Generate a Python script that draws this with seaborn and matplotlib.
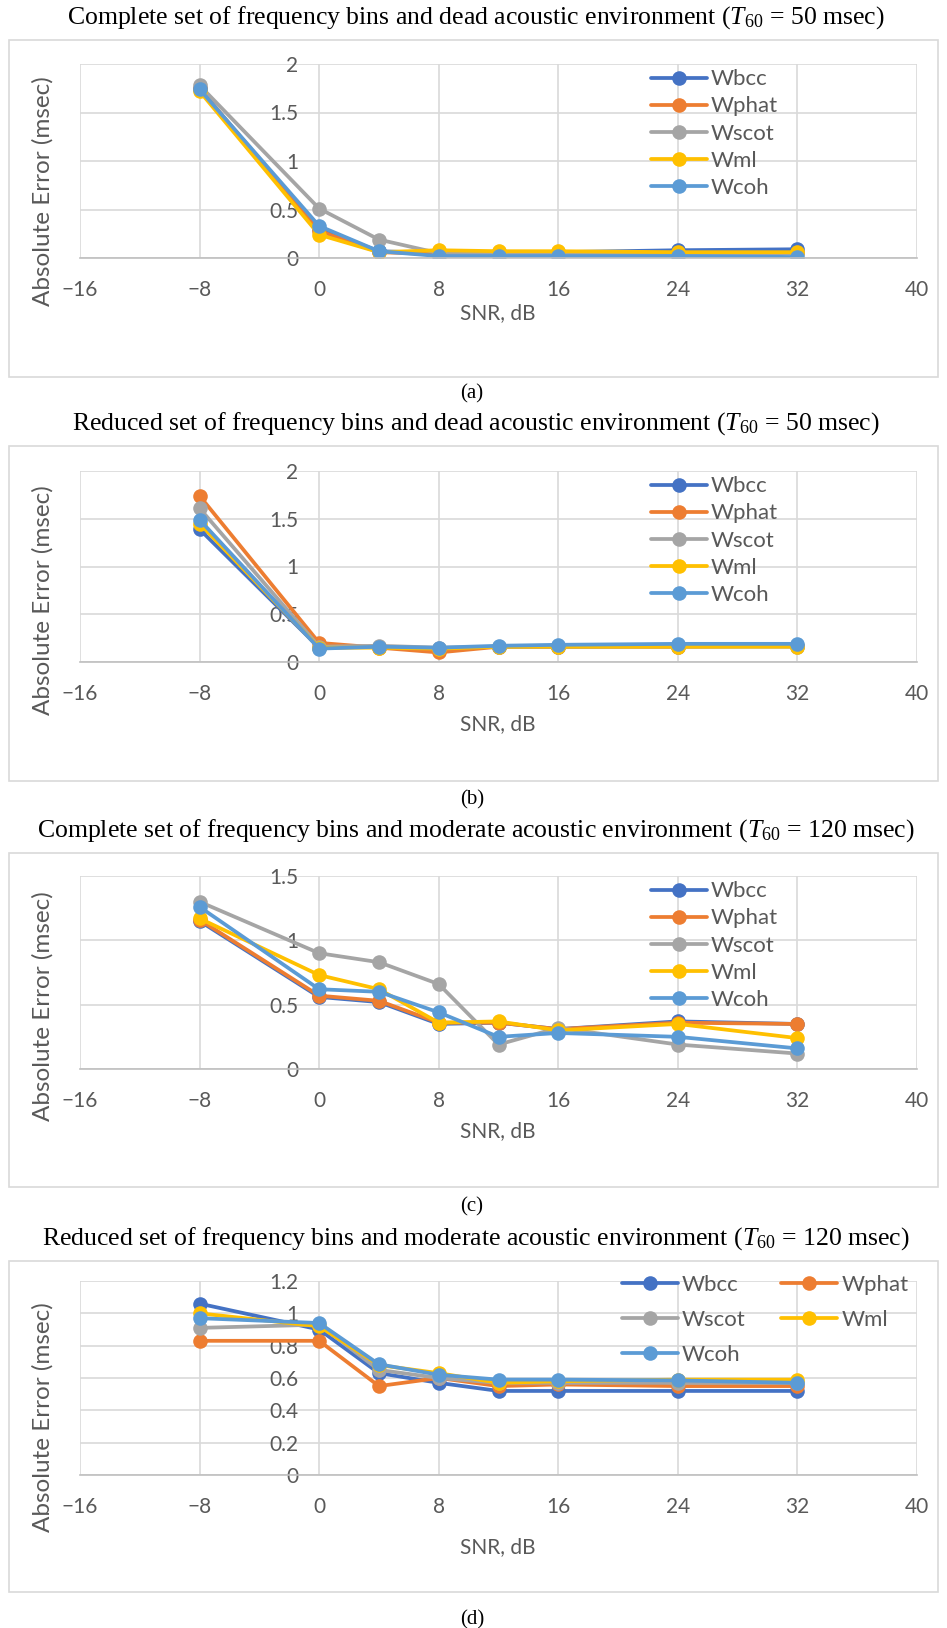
import numpy as np
import pandas as pd
import matplotlib
matplotlib.use("Agg")
import matplotlib.pyplot as plt
from matplotlib.patches import Rectangle
import seaborn as sns

sns.set_theme(style="white")
plt.rcParams['font.family'] = ['Lato', 'DejaVu Sans']
plt.rcParams['mathtext.fontset'] = 'custom'
plt.rcParams['mathtext.rm'] = 'Liberation Serif'
plt.rcParams['mathtext.it'] = 'Liberation Serif:italic'

# ---------------- data ----------------
snr = [-8, 0, 4, 8, 12, 16, 24, 32]
series_names = ["Wbcc", "Wphat", "Wscot", "Wml", "Wcoh"]
colors = ["#4472C4", "#ED7D31", "#A5A5A5", "#FFC000", "#5B9BD5"]

# (a) complete set, dead environment
a_wbcc  = [1.74, 0.30, 0.07, 0.05, 0.06, 0.06, 0.08, 0.09]
a_wphat = [1.75, 0.28, 0.06, 0.04, 0.04, 0.04, 0.05, 0.05]
a_wscot = [1.78, 0.51, 0.19, 0.05, 0.05, 0.05, 0.05, 0.05]
a_wml   = [1.72, 0.24, 0.06, 0.08, 0.07, 0.07, 0.06, 0.06]
a_wcoh  = [1.74, 0.33, 0.07, 0.02, 0.02, 0.02, 0.02, 0.01]

# (b) reduced set, dead environment
b_wbcc  = [1.39, 0.15, 0.16, 0.14, 0.16, 0.16, 0.17, 0.17]
b_wphat = [1.74, 0.20, 0.15, 0.10, 0.16, 0.16, 0.16, 0.17]
b_wscot = [1.61, 0.16, 0.17, 0.15, 0.16, 0.16, 0.16, 0.16]
b_wml   = [1.45, 0.15, 0.15, 0.14, 0.16, 0.16, 0.16, 0.16]
b_wcoh  = [1.49, 0.14, 0.16, 0.15, 0.17, 0.18, 0.19, 0.19]

# (c) complete set, moderate environment
c_wbcc  = [1.15, 0.56, 0.52, 0.35, 0.36, 0.31, 0.37, 0.35]
c_wphat = [1.16, 0.57, 0.53, 0.36, 0.36, 0.31, 0.36, 0.35]
c_wscot = [1.30, 0.90, 0.83, 0.66, 0.19, 0.32, 0.19, 0.12]
c_wml   = [1.17, 0.73, 0.62, 0.36, 0.37, 0.30, 0.35, 0.24]
c_wcoh  = [1.26, 0.62, 0.60, 0.44, 0.25, 0.28, 0.25, 0.16]

# (d) reduced set, moderate environment
d_wbcc  = [1.06, 0.90, 0.63, 0.57, 0.52, 0.52, 0.52, 0.52]
d_wphat = [0.83, 0.83, 0.55, 0.60, 0.55, 0.56, 0.55, 0.55]
d_wscot = [0.91, 0.93, 0.65, 0.60, 0.57, 0.57, 0.57, 0.57]
d_wml   = [1.00, 0.92, 0.68, 0.63, 0.57, 0.58, 0.59, 0.59]
d_wcoh  = [0.97, 0.94, 0.685, 0.62, 0.59, 0.59, 0.585, 0.57]

titles = [
    r"Complete set of frequency bins and dead acoustic environment ($T_{60}$ = 50 msec)",
    r"Reduced set of frequency bins and dead acoustic environment ($T_{60}$ = 50 msec)",
    r"Complete set of frequency bins and moderate acoustic environment ($T_{60}$ = 120 msec)",
    r"Reduced set of frequency bins and moderate acoustic environment ($T_{60}$ = 120 msec)",
]
captions = ["(a)", "(b)", "(c)", "(d)"]
x_ticks = [-16, -8, 0, 8, 16, 24, 32, 40]
y_ticks_ab = [0, 0.5, 1, 1.5, 2]
y_labels_ab = ["0", "0.5", "1", "1.5", "2"]
y_ticks_c = [0, 0.5, 1, 1.5]
y_labels_c = ["0", "0.5", "1", "1.5"]
y_ticks_d = [0, 0.2, 0.4, 0.6, 0.8, 1, 1.2]
y_labels_d = ["0", "0.2", "0.4", "0.6", "0.8", "1", "1.2"]
x_label = "SNR, dB"
y_label = "Absolute Error (msec)"

panel_data = [
    [a_wbcc, a_wphat, a_wscot, a_wml, a_wcoh],
    [b_wbcc, b_wphat, b_wscot, b_wml, b_wcoh],
    [c_wbcc, c_wphat, c_wscot, c_wml, c_wcoh],
    [d_wbcc, d_wphat, d_wscot, d_wml, d_wcoh],
]
panel_yticks = [(y_ticks_ab, y_labels_ab), (y_ticks_ab, y_labels_ab),
                (y_ticks_c, y_labels_c), (y_ticks_d, y_labels_d)]

# ---------------- layout (pixels) ----------------
W, H = 947, 1628
fig = plt.figure(figsize=(W / 100, H / 100), dpi=100)
fig.patch.set_facecolor("white")

PL, PR = 80, 917
layout = [
    dict(top=64, bot=258, title=18, ftop=40, fbot=377, snr=313, cap=394),
    dict(top=471, bot=662, title=424, ftop=446, fbot=781, snr=724, cap=800),
    dict(top=876, bot=1069, title=831, ftop=853, fbot=1187, snr=1131, cap=1207),
    dict(top=1281, bot=1475, title=1239, ftop=1261, fbot=1592, snr=1547, cap=1620),
]

grid_c = "#d9d9d9"
text_c = "#595959"

def fx(px):
    return px / W

def fy(py):
    return 1 - py / H

for i, L in enumerate(layout):
    fig.patches.append(Rectangle((fx(9), fy(L["fbot"])), fx(938) - fx(9), fy(L["ftop"]) - fy(L["fbot"]),
                                 transform=fig.transFigure, fill=False, edgecolor=grid_c, lw=1.2, zorder=0))
    ax = fig.add_axes([fx(PL), fy(L["bot"]), fx(PR) - fx(PL), (L["bot"] - L["top"]) / H])
    ax.set_facecolor("none")
    for name, col, vals in zip(series_names, colors, panel_data[i]):
        sns.lineplot(x=snr, y=vals, ax=ax, color=col, marker="o", markersize=10.5,
                     markeredgewidth=0, linewidth=2.7, label=name, sort=False)
    yt, yl = panel_yticks[i]
    ax.set_xlim(-16, 40)
    ax.set_ylim(0, yt[-1])
    ax.set_xticks(x_ticks)
    ax.set_xticklabels([str(v).replace("-", "\u2212") for v in x_ticks])
    ax.set_yticks(yt)
    ax.set_yticklabels(yl)
    ax.grid(True, color=grid_c, lw=1.2)
    ax.set_axisbelow(True)
    for s in ["top", "right", "left"]:
        ax.spines[s].set_visible(False)
    ax.spines["left"].set_position(("data", 0))
    ax.spines["bottom"].set_color("#bfbfbf")
    ax.spines["bottom"].set_linewidth(1.2)
    ax.tick_params(axis="both", length=0, labelsize=15, labelcolor=text_c)
    ax.tick_params(axis="x", pad=16)
    ax.tick_params(axis="y", pad=15)
    ax.set_xlabel("")
    ax.set_ylabel("")

    handles, labels = ax.get_legend_handles_labels()
    if i < 3:
        ax.legend(handles, labels, loc="upper left", bbox_to_anchor=((640 - PL) / (PR - PL), 1.03),
                  frameon=False, fontsize=16, handlelength=2.5, handletextpad=0.2,
                  labelspacing=0.32, borderpad=0, labelcolor=text_c)
    else:
        order = [0, 2, 4, 1, 3]
        ax.legend([handles[k] for k in order], [labels[k] for k in order], ncol=2,
                  loc="upper left", bbox_to_anchor=((611 - PL) / (PR - PL), 1.09),
                  frameon=False, fontsize=16, handlelength=2.5, handletextpad=0.2,
                  labelspacing=0.68, columnspacing=1.6, borderpad=0, labelcolor=text_c)

    fig.text(fx(476), fy(L["title"]), titles[i], ha="center", va="center",
             fontsize=18.5, family="Liberation Serif", color="black")
    fig.text(fx(498), fy(L["snr"]), x_label, ha="center", va="center", fontsize=15, color=text_c)
    fig.text(fx(43), fy((L["top"] + L["snr"]) / 2 + 3), y_label, ha="center", va="center",
             rotation=90, fontsize=17.5, color=text_c)
    fig.text(fx(472), fy(L["cap"]), captions[i], ha="center", va="center",
             fontsize=15, family="Liberation Serif", color="black")

fig.savefig("out.png", dpi=100, facecolor="white")
